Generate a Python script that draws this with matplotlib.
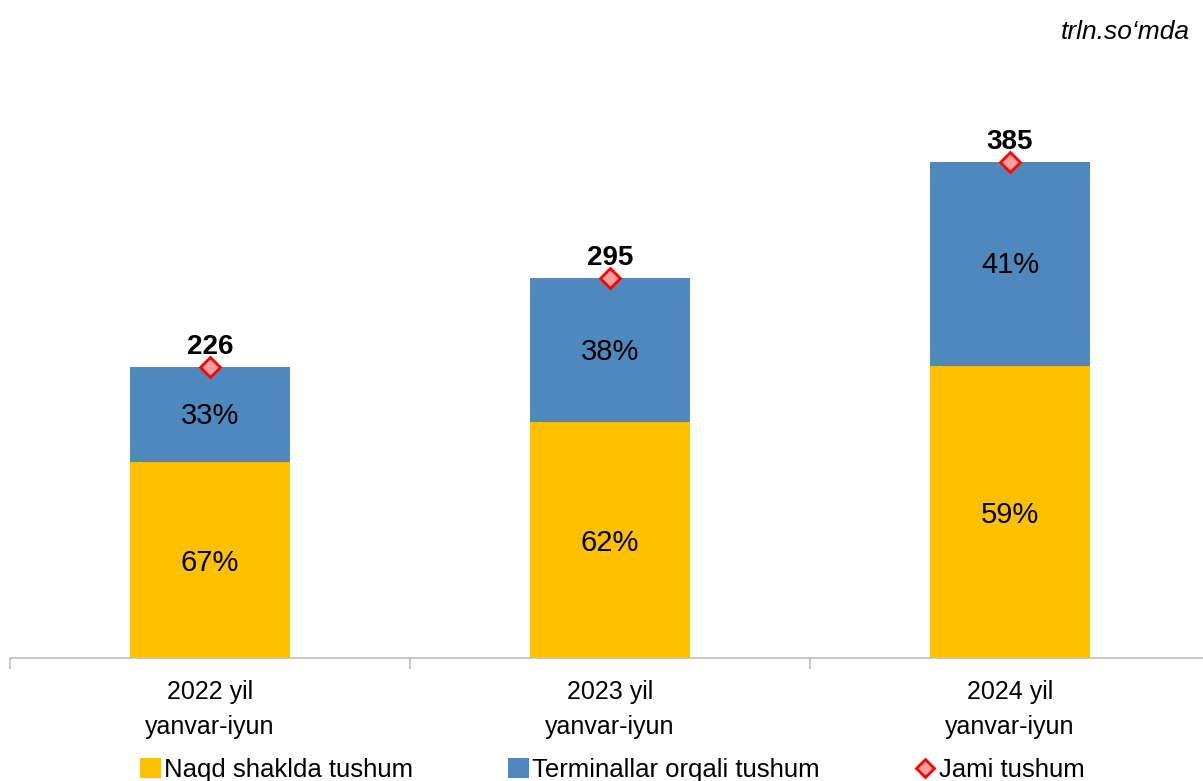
import matplotlib
matplotlib.use("Agg")
import matplotlib.pyplot as plt
from matplotlib.lines import Line2D
from matplotlib.patches import Patch

categories = ["2022 yil\nyanvar-iyun", "2023 yil\nyanvar-iyun", "2024 yil\nyanvar-iyun"]
nagd = [152, 183, 227]
terminal = [74, 112, 158]
totals = [226, 295, 385]
series_names = ["Naqd shaklda tushum", "Terminallar orqali tushum", "Jami tushum"]
unit_label = "trln.so\u2018mda"

C_YEL = "#FFC000"
C_BLUE = "#4F88BD"

plt.rcParams['font.family'] = ['Liberation Sans', 'DejaVu Sans']

fig = plt.figure(figsize=(12.03, 7.81), dpi=100)
W, H = 1203, 781
x0, x1 = 10, 1210
ybase = 658
scale = 1.288
ymax = 450
ax = fig.add_axes([x0 / W, (H - ybase) / H, (x1 - x0) / W, ymax * scale / H])

x = list(range(len(categories)))
ax.bar(x, nagd, width=0.4, color=C_YEL, zorder=2)
ax.bar(x, terminal, width=0.4, bottom=nagd, color=C_BLUE, zorder=2)
ax.plot(x, totals, linestyle='none', marker='D', markersize=10.5,
        markerfacecolor='#FF9E9E', markeredgecolor='#FF0000', markeredgewidth=2, zorder=4)

for i in x:
    t = totals[i]
    p1 = round(nagd[i] / t * 100)
    p2 = 100 - p1
    ax.annotate(f"{p1}%", (i, nagd[i] / 2), xytext=(0, -2), textcoords='offset points',
                ha='center', va='center', fontsize=21, zorder=5)
    ax.annotate(f"{p2}%", (i, nagd[i] + terminal[i] / 2), xytext=(0, -1), textcoords='offset points',
                ha='center', va='center', fontsize=21, zorder=5)
    ax.annotate(f"{t}", (i, t), xytext=(0, 5), textcoords='offset points',
                ha='center', va='bottom', fontsize=20, fontweight='bold', zorder=5)

ax.set_xlim(-0.5, 2.5)
ax.set_ylim(0, ymax)
for s in ['top', 'right', 'left']:
    ax.spines[s].set_visible(False)
ax.spines['bottom'].set_color('#BFBFBF')
ax.spines['bottom'].set_linewidth(1.2)
ax.set_yticks([])
ax.set_xticks(x)
ax.set_xticklabels(categories, fontsize=18, linespacing=1.55)
ax.tick_params(axis='x', which='major', length=0, pad=16)
ax.set_xticks([-0.5, 0.5, 1.5, 2.5], minor=True)
ax.tick_params(axis='x', which='minor', length=8, color='#BFBFBF', width=1.2)

fig.text(1190 / W, 1 - 32 / H, unit_label, ha='right', va='center', fontsize=19, style='italic')

handles = [Patch(facecolor=C_YEL), Patch(facecolor=C_BLUE),
           Line2D([], [], linestyle='none', marker='D', markersize=9,
                  markerfacecolor='#FF9E9E', markeredgecolor='#FF0000', markeredgewidth=2)]
xs = [140, 508, 915]
for h, n, xp in zip(handles, series_names, xs):
    lg = fig.legend([h], [n], loc='center left', bbox_to_anchor=(xp / W, 1 - 770 / H),
                    frameon=False, fontsize=18.5, handlelength=0.8, handleheight=0.8,
                    handletextpad=0.15, borderpad=0, borderaxespad=0)

fig.savefig("out.png", dpi=100)
